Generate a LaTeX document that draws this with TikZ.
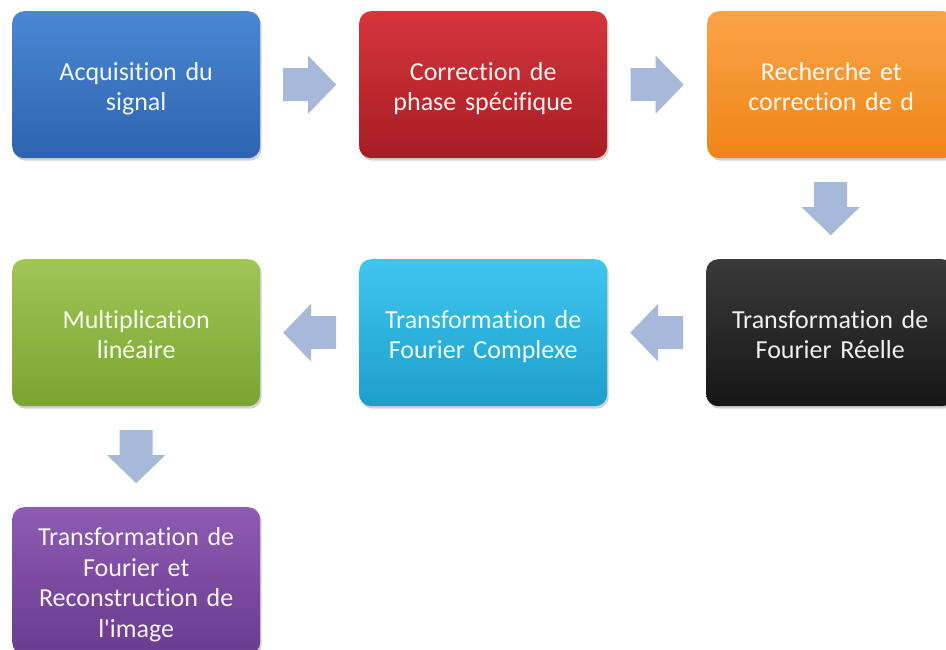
\documentclass[tikz,border=0pt]{standalone}
\usepackage{fontspec}
\setmainfont{Carlito}[Ligatures={NoCommon}]
\usetikzlibrary{shadows,calc}
\definecolor{arrowc}{HTML}{A7B9D9}
\definecolor{blueT}{HTML}{4A88D3}\definecolor{blueB}{HTML}{2D63AE}
\definecolor{redT}{HTML}{D5363C}\definecolor{redB}{HTML}{A61D23}
\definecolor{orT}{HTML}{FAA447}\definecolor{orB}{HTML}{EF8518}
\definecolor{blkT}{HTML}{3A3A3A}\definecolor{blkB}{HTML}{161616}
\definecolor{grT}{HTML}{A0C655}\definecolor{grB}{HTML}{7AA431}
\definecolor{cyT}{HTML}{40C6EE}\definecolor{cyB}{HTML}{1C9FCB}
\definecolor{puT}{HTML}{8E5BB3}\definecolor{puB}{HTML}{6A3B8E}
\newcommand\bline[1]{\smash{#1}}
\newcommand\capstrut{\rule{0pt}{\dimexpr 0.644em+5pt\relax}}
\tikzset{
  box/.style={rounded corners=12pt, minimum width=248pt, minimum height=147pt,
    text width=240pt, align=center, inner sep=0pt, anchor=north west,
    font=\fontsize{26}{30.5}\selectfont, text=white, text opacity=0.93,
    drop shadow={shadow xshift=1.5pt, shadow yshift=-2.5pt, opacity=0.35}},
  pics/barrow/.style={code={\fill[arrowc] (-26.5,-16.5) -- (-1.5,-16.5) -- (-1.5,-29) -- (26.5,0) -- (-1.5,29) -- (-1.5,16.5) -- (-26.5,16.5) -- cycle;}}
}
\begin{document}
\begin{tikzpicture}[x=1pt,y=-1pt]
\useasboundingbox (0,0) rectangle (946,650);
\fill[white] (0,0) rectangle (946,650);
\clip (0,0) rectangle (946,650);
\node[box, top color=blueT, bottom color=blueB] (b1) at (12,11) {\capstrut\bline{Acquisition du}\\\bline{signal}};
\node[box, top color=redT, bottom color=redB] (b2) at (359,11) {\capstrut\bline{Correction de}\\\bline{phase spécifique}};
\node[box, top color=orT, bottom color=orB] (b3) at (707,11) {\capstrut\bline{Recherche et}\\\bline{correction de d}};
\node[box, top color=blkT, bottom color=blkB] (b6) at (706,259) {\capstrut\bline{Transformation de}\\\bline{Fourier Réelle}};
\node[box, top color=cyT, bottom color=cyB] (b5) at (359,259) {\capstrut\bline{Transformation de}\\\bline{Fourier Complexe}};
\node[box, top color=grT, bottom color=grB] (b4) at (12,259) {\capstrut\bline{Multiplication}\\\bline{linéaire}};
\node[box, top color=puT, bottom color=puB] (b7) at (12,507) {\capstrut\bline{Transformation de}\\\bline{Fourier et}\\\bline{Reconstruction de}\\\bline{l\textquotesingle image}};
\path ($(b1.east)!0.5!(b2.west)$) pic {barrow};
\path ($(b2.east)!0.5!(b3.west)$) pic {barrow};
\path ($(b3.south)!0.5!(b6.north)$) pic[rotate=-90] {barrow};
\path ($(b6.west)!0.5!(b5.east)$) pic[rotate=180] {barrow};
\path ($(b5.west)!0.5!(b4.east)$) pic[rotate=180] {barrow};
\path ($(b4.south)!0.5!(b7.north)$) pic[rotate=-90] {barrow};
\end{tikzpicture}
\end{document}
